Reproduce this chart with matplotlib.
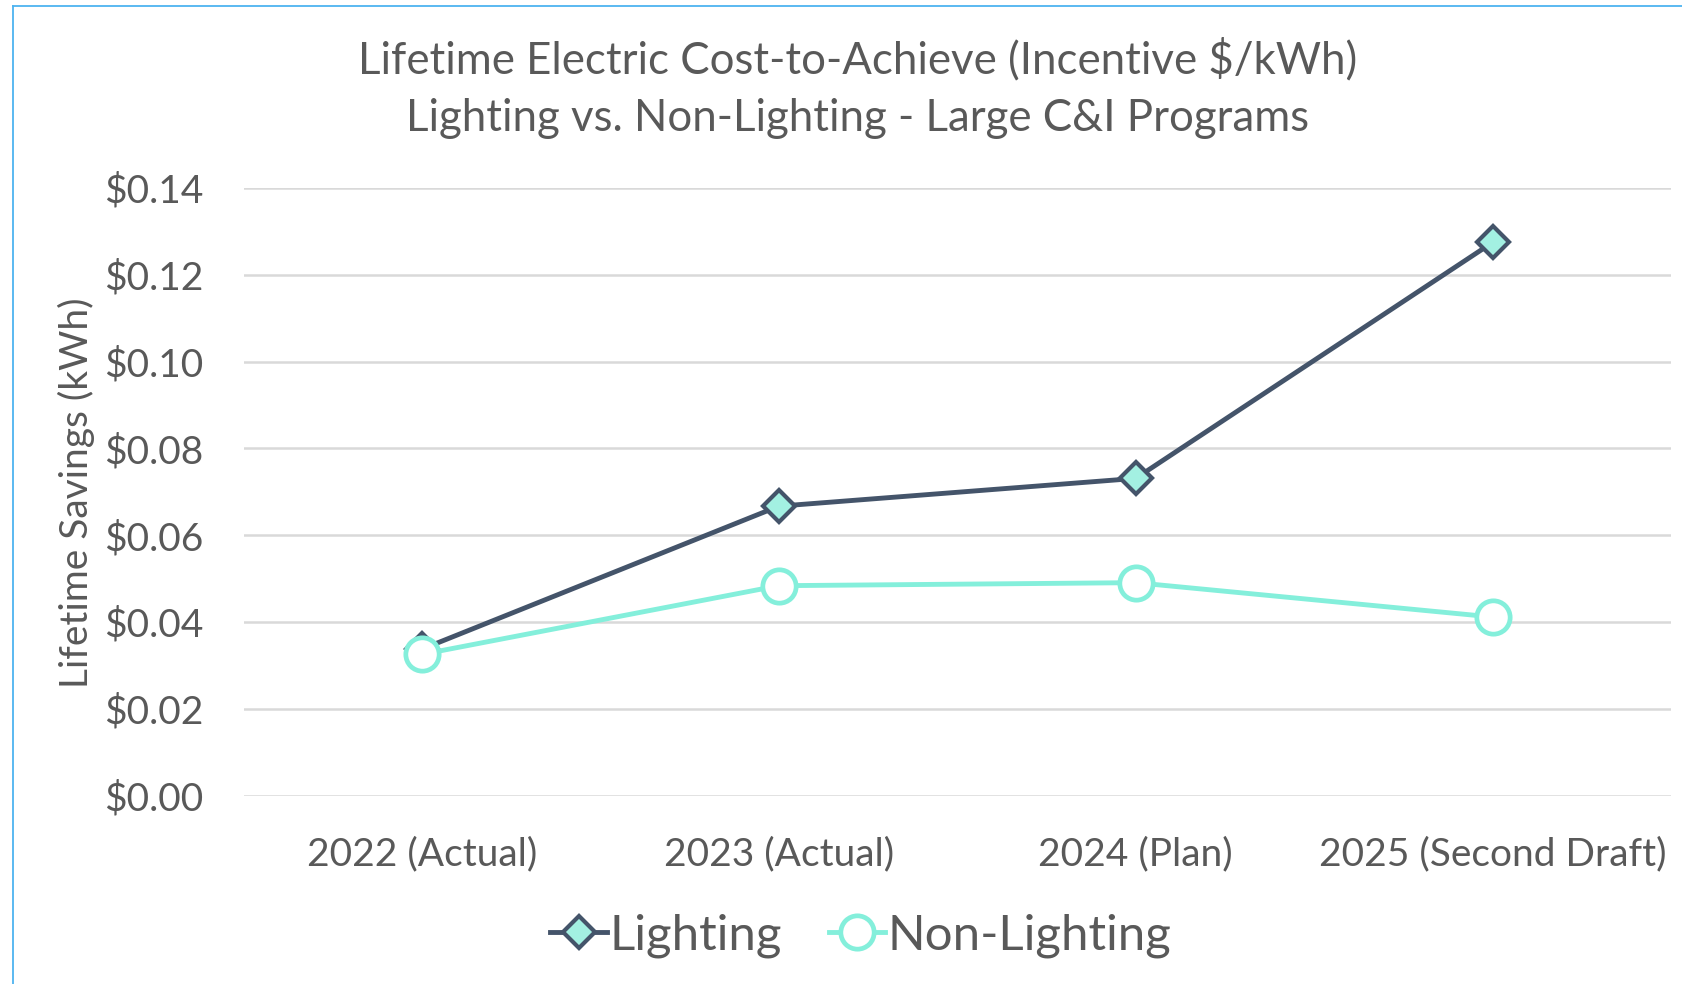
import matplotlib
matplotlib.use("Agg")
import matplotlib.pyplot as plt
from matplotlib.lines import Line2D
from matplotlib.ticker import FuncFormatter

plt.rcParams['font.family'] = ['Lato', 'DejaVu Sans']

categories = ["2022 (Actual)", "2023 (Actual)", "2024 (Plan)", "2025 (Second Draft)"]
lighting = [0.0338, 0.0667, 0.0731, 0.1274]
non_lighting = [0.0326, 0.0484, 0.0491, 0.0412]
yticks = [0.00, 0.02, 0.04, 0.06, 0.08, 0.10, 0.12, 0.14]
title = "Lifetime Electric Cost-to-Achieve (Incentive $/kWh)\nLighting vs. Non-Lighting - Large C&I Programs"
ylabel = "Lifetime Savings (kWh)"

TEXT = '#595959'
DARK = '#44546A'
AQUA = '#84EFDB'
AQUA_FILL = '#A3F0E2'
GRID = '#D9D9D9'

W, H = 1682, 984
fig = plt.figure(figsize=(W / 100, H / 100), dpi=100)
ax = fig.add_axes([243.5 / W, 1 - 796 / H, (1671 - 243.5) / W, (796 - 187.7) / H])

x = list(range(len(categories)))
ax.plot(x, lighting, color=DARK, lw=3.5, marker='D', ms=16, mfc=AQUA_FILL,
        mec=DARK, mew=3.0, label='Lighting', zorder=3, solid_joinstyle='round')
ax.plot(x, non_lighting, color=AQUA, lw=3.5, marker='o', ms=24, mfc='white',
        mec=AQUA, mew=3.4, label='Non-Lighting', zorder=4)

ax.set_xlim(-0.5, len(categories) - 0.5)
ax.set_ylim(0, 0.14)
ax.set_yticks(yticks)
ax.yaxis.set_major_formatter(FuncFormatter(lambda v, p: f"${v:.2f}"))
ax.set_xticks(x)
ax.set_xticklabels(categories)
ax.tick_params(axis='both', length=0, labelsize=28, colors=TEXT)
ax.tick_params(axis='y', pad=29)
ax.tick_params(axis='x', pad=29)
ax.grid(axis='y', color=GRID, lw=1.8)
ax.set_axisbelow(True)
for s in ax.spines.values():
    s.set_visible(False)

fig.text(76 / W, 1 - 493 / H, ylabel, rotation=90, ha='center', va='center',
         fontsize=28, color=TEXT)
fig.text(858 / W, 1 - 88 / H, title, ha='center', va='center', fontsize=31.5,
         color=TEXT, linespacing=1.5)

leg = fig.legend(loc='center', bbox_to_anchor=(861 / W, 1 - 936 / H), ncol=2,
                 frameon=False, fontsize=35.5, handlelength=1.15, handletextpad=0.05,
                 columnspacing=0.95, labelcolor=TEXT)

# chart border (partially cropped in reference)
fig.add_artist(Line2D([12.5 / W, 12.5 / W], [0, 1 - 6 / H], color='#4DB3F0', lw=1.3,
                      transform=fig.transFigure))
fig.add_artist(Line2D([12.5 / W, 1], [1 - 6 / H, 1 - 6 / H], color='#4DB3F0', lw=1.3,
                      transform=fig.transFigure))

fig.savefig("out.png", dpi=100)
